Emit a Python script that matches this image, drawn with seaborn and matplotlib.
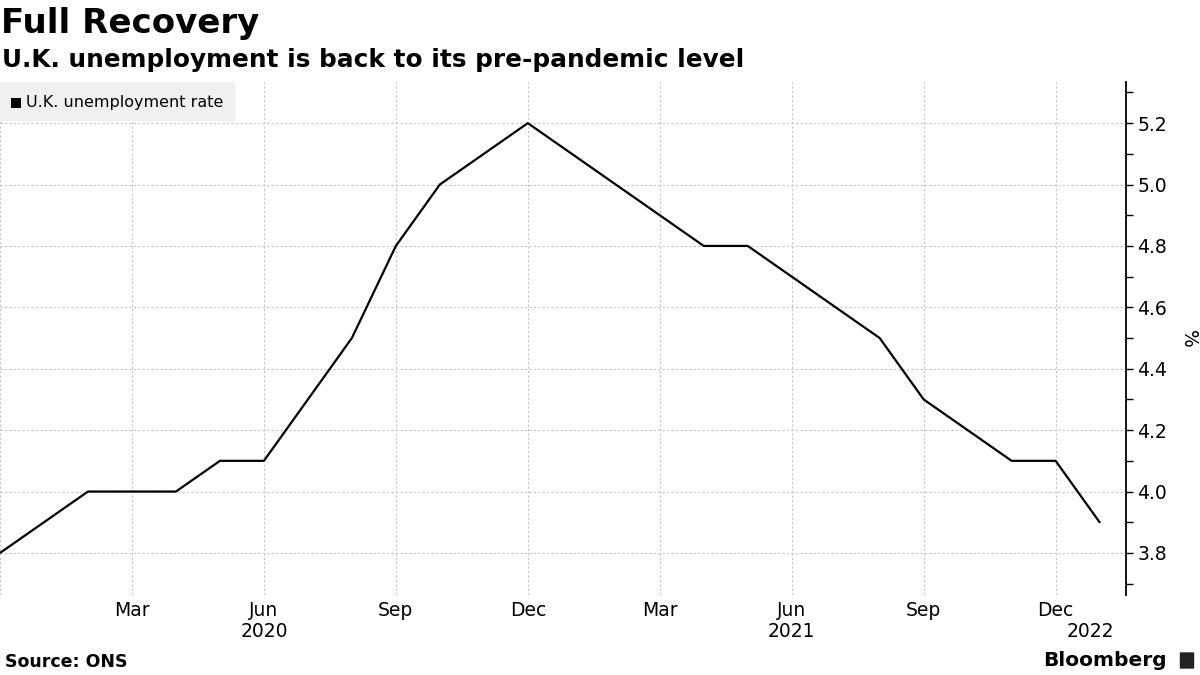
import matplotlib
matplotlib.use("Agg")
import matplotlib.pyplot as plt
import matplotlib.ticker as mticker
from matplotlib.patches import FancyBboxPatch, Rectangle
import seaborn as sns
import pandas as pd
import numpy as np

months = pd.date_range("2019-12-01", "2022-01-01", freq="MS")
rate = [3.8, 3.9, 4.0, 4.0, 4.0, 4.1, 4.1, 4.3, 4.5, 4.8, 5.0, 5.1, 5.2,
        5.1, 5.0, 4.9, 4.8, 4.8, 4.7, 4.6, 4.5, 4.3, 4.2, 4.1, 4.1, 3.9]
tick_labels = ["Mar", "Jun", "Sep", "Dec", "Mar", "Jun", "Sep", "Dec"]
year_labels = ["2020", "2021", "2022"]
y_ticks = [3.8, 4.0, 4.2, 4.4, 4.6, 4.8, 5.0, 5.2]

df = pd.DataFrame({"idx": np.arange(len(rate)), "rate": rate})

sns.set_theme(style="white")
plt.rcParams['font.family'] = ['DejaVu Sans']
plt.rcParams['text.color'] = 'black'
plt.rcParams['axes.labelcolor'] = 'black'
plt.rcParams['xtick.color'] = 'black'
plt.rcParams['ytick.color'] = 'black'

fig = plt.figure(figsize=(12, 6.75), dpi=100)
ax = fig.add_axes([0.0, (675 - 595) / 675, 1126 / 1200, (595 - 82) / 675])

sns.lineplot(data=df, x="idx", y="rate", ax=ax, color="black", linewidth=1.6)

ax.set_xlim(0, 25.6)
ax.set_ylim(3.663, 5.334)

# grid
quarter_pos = [0, 3, 6, 9, 12, 15, 18, 21, 24]
for q in quarter_pos:
    ax.axvline(q, color="#c4c4c4", linestyle=(0, (2, 2)), linewidth=0.8, zorder=0)
for yv in y_ticks:
    ax.axhline(yv, color="#c4c4c4", linestyle=(0, (2, 2)), linewidth=0.8, zorder=0)

# x ticks
ax.set_xticks(quarter_pos[1:])
ax.set_xticklabels(tick_labels, fontsize=13.5, color="black")
ax.tick_params(axis="x", length=0, pad=4)

# year labels
for xpos, lab in zip([6, 18, 24.8], year_labels):
    ax.text(xpos, -0.053, lab, transform=ax.get_xaxis_transform(),
            ha="center", va="top", fontsize=13.5, color="black")

# y axis right
ax.yaxis.tick_right()
ax.set_yticks(y_ticks)
ax.set_yticklabels([f"{v:.1f}" for v in y_ticks], fontsize=13.5, color="black")
ax.yaxis.set_minor_locator(mticker.MultipleLocator(0.1))
ax.tick_params(axis="y", which="major", length=5, width=1, direction="out", pad=3, color="black")
ax.tick_params(axis="y", which="minor", length=5, width=1, direction="out", color="black", right=True)
ax.yaxis.set_label_position("right")
ax.set_ylabel("%", rotation=270, fontsize=13.5, labelpad=22, color="black")
ax.set_xlabel("")

for s in ["top", "left", "bottom"]:
    ax.spines[s].set_visible(False)
ax.spines["right"].set_color("black")
ax.spines["right"].set_linewidth(1.3)

# legend box
fig.patches.append(Rectangle((0, (675 - 121) / 675), 235 / 1200, 39 / 675,
                             transform=fig.transFigure, facecolor="#f0f0f0",
                             edgecolor="none", zorder=1))
fig.patches.append(Rectangle((11 / 1200, (675 - 108) / 675), 10 / 1200, 10 / 675,
                             transform=fig.transFigure, facecolor="black",
                             edgecolor="none", zorder=2))
fig.text(26 / 1200, 1 - 102 / 675, "U.K. unemployment rate", fontsize=11.5,
         va="center", ha="left", zorder=3, color="black")

# titles
fig.text(1 / 1200, 1 - 23 / 675, "Full Recovery", fontsize=24.5, fontweight="bold",
         va="center", ha="left", color="black")
fig.text(2 / 1200, 1 - 60 / 675, "U.K. unemployment is back to its pre-pandemic level",
         fontsize=17.8, fontweight="bold", va="center", ha="left", color="black")

# footer
fig.text(5 / 1200, 1 - 662 / 675, "Source: ONS", fontsize=12.5, fontweight="bold",
         va="center", ha="left", color="black")
fig.text(1167 / 1200, 1 - 660 / 675, "Bloomberg", fontsize=14.5, fontweight="bold",
         va="center", ha="right", color="black")
fig.patches.append(FancyBboxPatch((1181 / 1200, (675 - 668) / 675), 12 / 1200, 15 / 675,
                                  boxstyle="round,pad=0.001", transform=fig.transFigure,
                                  facecolor="#222222", edgecolor="none"))

fig.savefig("out.png", dpi=100)
